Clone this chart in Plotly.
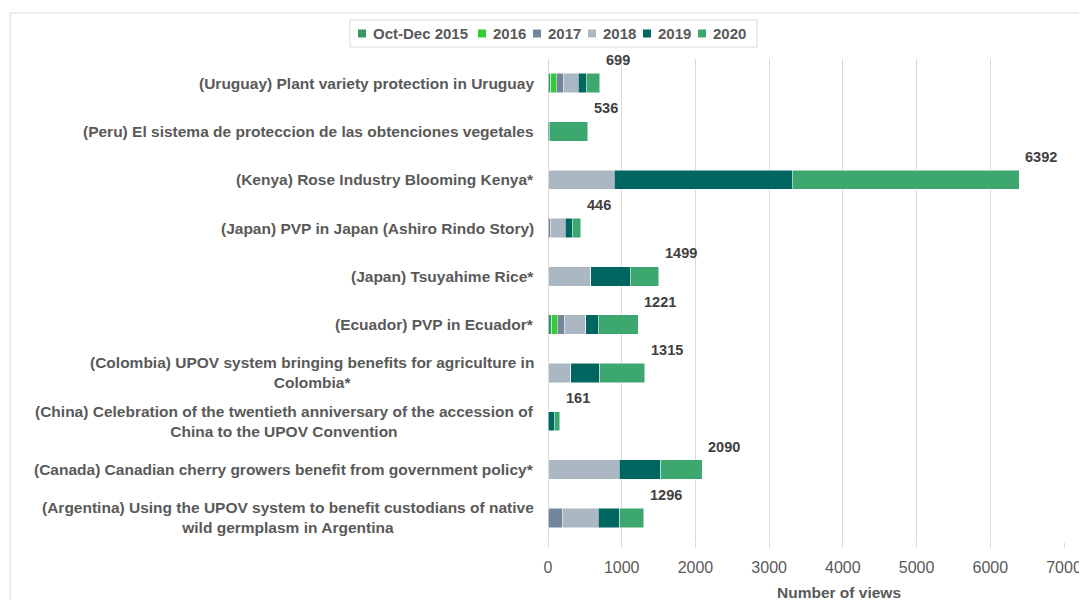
import plotly.graph_objects as go

categories = [
    "(Uruguay) Plant variety protection in Uruguay",
    "(Peru) El sistema de proteccion de las obtenciones vegetales",
    "(Kenya) Rose Industry Blooming Kenya*",
    "(Japan) PVP in Japan (Ashiro Rindo Story)",
    "(Japan) Tsuyahime Rice*",
    "(Ecuador) PVP in Ecuador*",
    "(Colombia) UPOV system bringing benefits for agriculture in<br>Colombia*",
    "(China) Celebration of the twentieth anniversary of the accession of<br>China to the UPOV Convention",
    "(Canada) Canadian cherry growers benefit from government policy*",
    "(Argentina) Using the UPOV system to benefit custodians of native<br>wild germplasm in Argentina",
]

series_names = ["Oct-Dec 2015", "2016", "2017", "2018", "2019", "2020"]

v2015 = [35, 0, 0, 0, 0, 50, 0, 0, 0, 0]
v2016 = [79, 0, 0, 0, 0, 73, 0, 0, 0, 0]
v2017 = [91, 0, 0, 36, 0, 100, 0, 0, 0, 191]
v2018 = [204, 0, 900, 200, 577, 286, 309, 0, 964, 491]
v2019 = [109, 16, 2412, 95, 541, 173, 395, 82, 564, 291]
v2020 = [181, 520, 3080, 115, 381, 539, 611, 79, 562, 323]

totals = [699, 536, 6392, 446, 1499, 1221, 1315, 161, 2090, 1296]

x_ticks = [0, 1000, 2000, 3000, 4000, 5000, 6000, 7000]

colors = ["#339966", "#33cc33", "#72869b", "#abb8c3", "#006660", "#3ca76f"]

FONT = "Liberation Sans, Arial"

# page body has an 8px margin; figure is sized so the plot lands where the reference has it
OFF = 8
W, H = 1087 - OFF, 600 - OFF
PL, PR, PT, PB = 548, 1064, 59, 542  # plot area in page pixels


def px(xp):
    return (xp - PL) / (PR - PL)


def py(yp):
    return (PB - yp) / (PB - PT)


fig = go.Figure()
for name, vals, col in zip(series_names, [v2015, v2016, v2017, v2018, v2019, v2020], colors):
    fig.add_trace(go.Bar(
        y=categories, x=vals, name=name, orientation="h",
        marker=dict(color=col, line=dict(color="white", width=0.5)),
        width=0.4, showlegend=False,
    ))

# category labels (centred multi-line, like the reference)
for cat in categories:
    fig.add_annotation(
        x=0, xref="paper", y=cat, yref="y", text="<b>" + cat.replace("<br>", "</b><br><b>") + "</b>",
        xanchor="right", yanchor="middle", align="center", xshift=-12,
        showarrow=False, font=dict(family=FONT, size=15.5, color="#595959"),
    )

for cat, tot in zip(categories, totals):
    fig.add_annotation(
        x=tot, xref="x", y=cat, yref="y", text="<b>%d</b>" % tot,
        xanchor="left", yanchor="middle", xshift=4, yshift=23,
        showarrow=False, font=dict(family=FONT, size=14.5, color="#404040"),
    )

# outer chart frame
fig.add_shape(type="rect", xref="paper", yref="paper",
              x0=px(10), x1=px(1200), y0=py(700), y1=py(13),
              line=dict(color="#d9d9d9", width=1), fillcolor="rgba(0,0,0,0)", layer="below")

# legend box and entries
fig.add_shape(type="rect", xref="paper", yref="paper",
              x0=px(350), x1=px(757), y0=py(47), y1=py(20),
              line=dict(color="#d9d9d9", width=1), fillcolor="white")
leg_x = [362, 482, 537, 592, 647, 702]
for name, col, lx in zip(series_names, colors, leg_x):
    fig.add_shape(type="rect", xref="paper", yref="paper",
                  x0=px(lx - 4), x1=px(lx + 4), y0=py(37.5), y1=py(29.5),
                  line=dict(width=0), fillcolor=col)
    fig.add_annotation(x=px(lx + 9), xref="paper", y=py(33.5), yref="paper",
                       text="<b>" + name + "</b>", xanchor="left", yanchor="middle",
                       showarrow=False, font=dict(family=FONT, size=15, color="#595959"))

# x axis title
fig.add_annotation(x=px(839), xref="paper", y=py(592), yref="paper",
                   text="<b>Number of views</b>", xanchor="center", yanchor="middle",
                   showarrow=False, font=dict(family=FONT, size=15.5, color="#595959"))

fig.update_layout(
    width=W, height=H,
    barmode="stack",
    plot_bgcolor="white", paper_bgcolor="white",
    margin=dict(l=PL - OFF, r=W - (PR - OFF), t=PT - OFF, b=H - (PB - OFF), autoexpand=False),
    font=dict(family=FONT, color="#595959"),
    showlegend=False,
    xaxis=dict(
        range=[0, 7000], tickvals=x_ticks, ticktext=[str(t) for t in x_ticks],
        showgrid=True, gridcolor="#d9d9d9", gridwidth=1,
        zeroline=True, zerolinecolor="#d9d9d9", zerolinewidth=1,
        ticks="outside", ticklen=5, tickcolor="#d9d9d9",
        ticklabelstandoff=6, automargin=False,
        tickfont=dict(size=16, color="#595959"),
        fixedrange=True,
    ),
    yaxis=dict(
        range=[len(categories) - 0.5, -0.5], autorange=False,
        showticklabels=False, showgrid=False, automargin=False,
        categoryorder="array", categoryarray=categories,
    ),
    bargap=0.6,
)

fig.write_html("out.html")
